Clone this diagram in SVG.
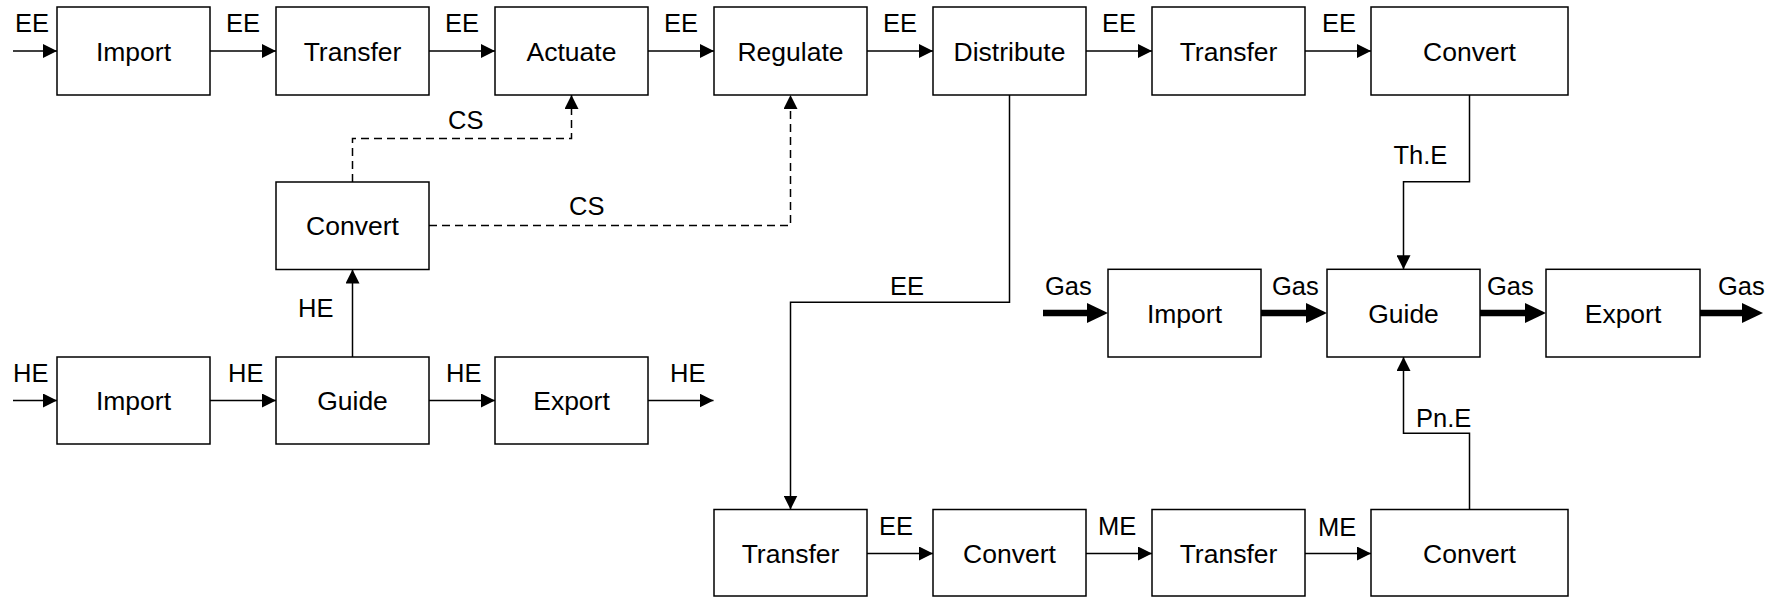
<svg xmlns="http://www.w3.org/2000/svg" width="1781" height="597" viewBox="0 0 1781 597">
<style>
.box{fill:#fff;stroke:#000;stroke-width:1.5}
.n{font-family:"Liberation Sans",Arial,sans-serif;font-size:26.5px;text-anchor:middle;fill:#000}
.l{font-family:"Liberation Sans",Arial,sans-serif;font-size:25.5px;fill:#000}
.c{fill:none;stroke:#000;stroke-width:1.5}
.d{fill:none;stroke:#000;stroke-width:1.5;stroke-dasharray:8 5}
.t{fill:none;stroke:#000;stroke-width:6.5}
</style>
<defs>
<marker id="a" markerUnits="userSpaceOnUse" markerWidth="14" markerHeight="14" refX="14" refY="7" orient="auto"><path d="M0,0 L14,7 L0,14 z" fill="#000"/></marker>
<marker id="b" markerUnits="userSpaceOnUse" markerWidth="21" markerHeight="20" refX="0" refY="10" orient="auto"><path d="M0,0 L21,10 L0,20 z" fill="#000"/></marker>
</defs>
<rect width="1781" height="597" fill="#fff"/>
<g id="connectors">
<path class="c" d="M13,51 H57" marker-end="url(#a)"/>
<path class="c" d="M210,51 H276" marker-end="url(#a)"/>
<path class="c" d="M429,51 H495" marker-end="url(#a)"/>
<path class="c" d="M648,51 H714" marker-end="url(#a)"/>
<path class="c" d="M867,51 H933" marker-end="url(#a)"/>
<path class="c" d="M1086,51 H1152" marker-end="url(#a)"/>
<path class="c" d="M1305,51 H1371" marker-end="url(#a)"/>
<path class="d" d="M352.5,182 V138.5 H571.5 V95" marker-end="url(#a)"/>
<path class="d" d="M429,225.5 H790.5 V95" marker-end="url(#a)"/>
<path class="c" d="M352.5,357 V269.5" marker-end="url(#a)"/>
<path class="c" d="M13,400.5 H57" marker-end="url(#a)"/>
<path class="c" d="M210,400.5 H276" marker-end="url(#a)"/>
<path class="c" d="M429,400.5 H495" marker-end="url(#a)"/>
<path class="c" d="M648,400.5 H713.5" marker-end="url(#a)"/>
<path class="c" d="M1009.5,95 V302.3 H790.5 V509.5" marker-end="url(#a)"/>
<path class="c" d="M1469.5,95 V181.7 H1403.5 V269.3" marker-end="url(#a)"/>
<path class="c" d="M1469.5,509.5 V433.3 H1403.5 V357" marker-end="url(#a)"/>
<path class="c" d="M867,553.5 H933" marker-end="url(#a)"/>
<path class="c" d="M1086,553.5 H1152" marker-end="url(#a)"/>
<path class="c" d="M1305,553.5 H1371" marker-end="url(#a)"/>
<path class="t" d="M1043,313 H1087" marker-end="url(#b)"/>
<path class="t" d="M1261,313 H1306" marker-end="url(#b)"/>
<path class="t" d="M1480,313 H1525" marker-end="url(#b)"/>
<path class="t" d="M1700,313 H1742" marker-end="url(#b)"/>
<text class="l" x="15" y="32">EE</text>
<text class="l" x="226" y="32">EE</text>
<text class="l" x="445" y="32">EE</text>
<text class="l" x="664" y="32">EE</text>
<text class="l" x="883" y="32">EE</text>
<text class="l" x="1102" y="32">EE</text>
<text class="l" x="1322" y="32">EE</text>
<text class="l" x="448" y="128.5">CS</text>
<text class="l" x="569" y="215">CS</text>
<text class="l" x="298" y="316.5">HE</text>
<text class="l" x="13" y="382">HE</text>
<text class="l" x="228" y="382">HE</text>
<text class="l" x="446" y="382">HE</text>
<text class="l" x="670" y="382">HE</text>
<text class="l" x="890" y="295">EE</text>
<text class="l" x="1393.5" y="164">Th.E</text>
<text class="l" x="1045" y="295">Gas</text>
<text class="l" x="1272" y="294.5">Gas</text>
<text class="l" x="1487" y="294.5">Gas</text>
<text class="l" x="1718" y="294.5">Gas</text>
<text class="l" x="1416" y="426.5">Pn.E</text>
<text class="l" x="879" y="535">EE</text>
<text class="l" x="1098" y="535">ME</text>
<text class="l" x="1318" y="535.5">ME</text>
</g>
<g id="import1"><rect class="box" x="57" y="7" width="153" height="88"/><text class="n" x="133.5" y="60.5">Import</text></g>
<g id="transfer1"><rect class="box" x="276" y="7" width="153" height="88"/><text class="n" x="352.5" y="60.5">Transfer</text></g>
<g id="actuate"><rect class="box" x="495" y="7" width="153" height="88"/><text class="n" x="571.5" y="60.5">Actuate</text></g>
<g id="regulate"><rect class="box" x="714" y="7" width="153" height="88"/><text class="n" x="790.5" y="60.5">Regulate</text></g>
<g id="distribute"><rect class="box" x="933" y="7" width="153" height="88"/><text class="n" x="1009.5" y="60.5">Distribute</text></g>
<g id="transfer2"><rect class="box" x="1152" y="7" width="153" height="88"/><text class="n" x="1228.5" y="60.5">Transfer</text></g>
<g id="convert1"><rect class="box" x="1371" y="7" width="197" height="88"/><text class="n" x="1469.5" y="60.5">Convert</text></g>
<g id="convert2"><rect class="box" x="276" y="182" width="153" height="87.5"/><text class="n" x="352.5" y="235">Convert</text></g>
<g id="import2"><rect class="box" x="57" y="357" width="153" height="87"/><text class="n" x="133.5" y="410">Import</text></g>
<g id="guide1"><rect class="box" x="276" y="357" width="153" height="87"/><text class="n" x="352.5" y="410">Guide</text></g>
<g id="export1"><rect class="box" x="495" y="357" width="153" height="87"/><text class="n" x="571.5" y="410">Export</text></g>
<g id="import3"><rect class="box" x="1108" y="269.3" width="153" height="87.7"/><text class="n" x="1184.5" y="322.8">Import</text></g>
<g id="guide2"><rect class="box" x="1327" y="269.3" width="153" height="87.7"/><text class="n" x="1403.5" y="322.8">Guide</text></g>
<g id="export2"><rect class="box" x="1546" y="269.3" width="154" height="87.7"/><text class="n" x="1623" y="322.8">Export</text></g>
<g id="transfer3"><rect class="box" x="714" y="509.5" width="153" height="86.5"/><text class="n" x="790.5" y="563">Transfer</text></g>
<g id="convert3"><rect class="box" x="933" y="509.5" width="153" height="86.5"/><text class="n" x="1009.5" y="563">Convert</text></g>
<g id="transfer4"><rect class="box" x="1152" y="509.5" width="153" height="86.5"/><text class="n" x="1228.5" y="563">Transfer</text></g>
<g id="convert4"><rect class="box" x="1371" y="509.5" width="197" height="86.5"/><text class="n" x="1469.5" y="563">Convert</text></g>
</svg>
